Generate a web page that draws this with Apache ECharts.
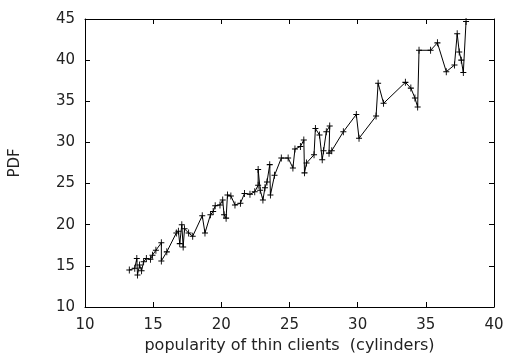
<!DOCTYPE html>
<html>
<head>
<meta charset="utf-8">
<script src="https://cdn.jsdelivr.net/npm/echarts@6/dist/echarts.min.js"></script>
<style>
  html, body { margin: 0; padding: 0; background: #fff; }
  #chart { width: 508px; height: 364px; }
</style>
</head>
<body>
<div id="chart"></div>
<script>
// x values (cylinders) and matching PDF values
const popularity = [
  13.25, 13.65, 13.8, 13.85, 14.0, 14.15, 14.3, 14.5, 14.8, 14.95,
  15.2, 15.6, 15.6, 16.0, 16.7, 16.85, 16.95, 17.1, 17.2, 17.3,
  17.6, 17.9, 18.6, 18.8, 19.2, 19.4, 19.55, 19.9, 20.1, 20.2,
  20.35, 20.45, 20.7, 21.0, 21.4, 21.7, 22.1, 22.45, 22.7, 22.7,
  22.85, 23.05, 23.2, 23.35, 23.55, 23.6, 23.9, 24.4, 24.9, 25.25,
  25.4, 25.8, 26.05, 26.1, 26.25, 26.8, 26.9, 27.2, 27.4, 27.5,
  27.7, 27.95, 27.9, 28.1, 28.95, 29.9, 30.1, 31.35, 31.5, 31.9,
  33.5, 33.9, 34.2, 34.4, 34.5, 35.35, 35.85, 36.5, 37.1, 37.3,
  37.45, 37.6, 37.75, 37.95
];
const pdf = [
  14.5, 14.7, 15.9, 13.9, 15.1, 14.4, 15.5, 15.9, 15.8, 16.3,
  16.9, 17.8, 15.6, 16.7, 19.0, 19.2, 17.7, 20.0, 17.3, 19.5,
  19.0, 18.6, 21.1, 19.0, 21.2, 21.6, 22.3, 22.4, 23.0, 21.2,
  20.8, 23.6, 23.5, 22.4, 22.6, 23.8, 23.7, 24.0, 24.8, 26.7,
  24.2, 23.0, 24.5, 25.2, 27.3, 23.6, 26.0, 28.1, 28.1, 26.9,
  29.2, 29.5, 30.3, 26.3, 27.5, 28.5, 31.7, 30.9, 27.9, 29.0,
  31.3, 32.0, 28.7, 29.0, 31.3, 33.4, 30.5, 33.2, 37.2, 34.75,
  37.3, 36.6, 35.4, 34.3, 41.2, 41.2, 42.1, 38.6, 39.4, 43.2,
  41.0, 40.0, 38.5, 44.7
];

const xTicks = { min: 10, max: 40, interval: 5 };
const yTicks = { min: 10, max: 45, interval: 5 };

const font = 'DejaVu Sans';
const ink = '#000';
const textInk = '#222';

const chart = echarts.init(document.getElementById('chart'), null, { renderer: 'canvas' });

const frame = { show: true, lineStyle: { color: ink, width: 1 } };
const ticksIn = { show: true, inside: true, length: 5, lineStyle: { color: ink } };

const option = {
  animation: false,
  backgroundColor: '#fff',
  grid: { left: 85, top: 19, right: 14, bottom: 57 },
  xAxis: [
    {
      type: 'value', min: xTicks.min, max: xTicks.max, interval: xTicks.interval,
      name: 'popularity of thin clients  (cylinders)',
      nameLocation: 'middle', nameGap: 30,
      nameTextStyle: { fontFamily: font, fontSize: 16, color: textInk },
      axisLine: frame, axisTick: ticksIn, splitLine: { show: false },
      axisLabel: { fontFamily: font, fontSize: 15, color: textInk, margin: 11 }
    },
    {
      type: 'value', position: 'top', min: xTicks.min, max: xTicks.max, interval: xTicks.interval,
      axisLine: frame, axisTick: ticksIn, splitLine: { show: false },
      axisLabel: { show: false }
    }
  ],
  yAxis: [
    {
      type: 'value', min: yTicks.min, max: yTicks.max, interval: yTicks.interval,
      name: 'PDF', nameLocation: 'middle', nameGap: 62,
      nameTextStyle: { fontFamily: font, fontSize: 15, color: textInk },
      axisLine: frame, axisTick: ticksIn, splitLine: { show: false },
      axisLabel: { fontFamily: font, fontSize: 15, color: textInk, margin: 10 }
    },
    {
      type: 'value', position: 'right', min: yTicks.min, max: yTicks.max, interval: yTicks.interval,
      axisLine: frame, axisTick: ticksIn, splitLine: { show: false },
      axisLabel: { show: false }
    }
  ],
  series: [{
    type: 'line',
    data: popularity.map((x, i) => [x, pdf[i]]),
    // gnuplot-style '+' point markers
    symbol: 'path://M0,4.25h10v1.5h-10zM4.25,0h1.5v10h-1.5z',
    symbolSize: [6, 7],
    showAllSymbol: true,
    itemStyle: { color: ink },
    lineStyle: { color: ink, width: 1 },
    emphasis: { disabled: true }
  }]
};

chart.setOption(option);
</script>
</body>
</html>
